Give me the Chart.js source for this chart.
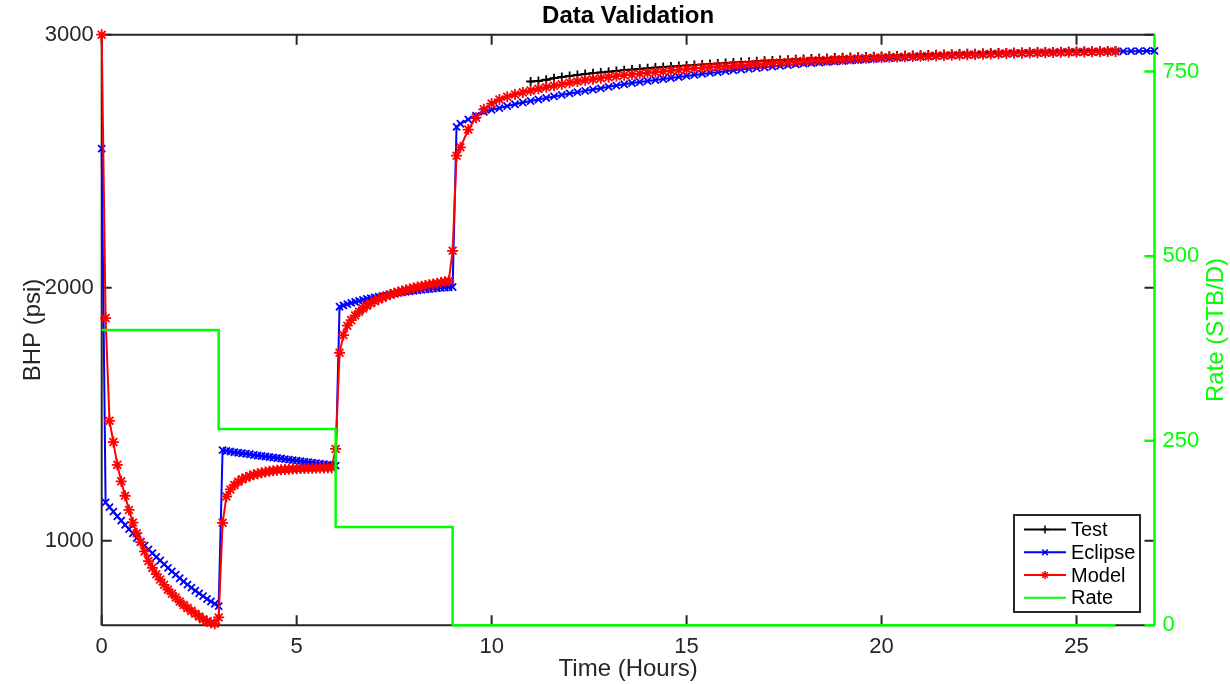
<!DOCTYPE html>
<html><head><meta charset="utf-8">
<script src="https://cdn.jsdelivr.net/npm/chart.js@4/dist/chart.umd.min.js"></script>
<style>html,body{margin:0;padding:0;background:#fff;}#wrap{width:1230px;height:684px;position:relative;}</style>
</head><body><div id="wrap"><canvas id="c" width="1230" height="684"></canvas></div>
<script>
// ---- data ----
const timeGrid = [
 0,0.1,0.2,0.3,0.4,0.5,0.6,0.7,0.8,0.9,
 1,1.1,1.2,1.3,1.4,1.5,1.6,1.7,1.8,1.9,
 2,2.1,2.2,2.3,2.4,2.5,2.6,2.7,2.8,2.9,
 3,3.1,3.2,3.3,3.4,3.5,3.6,3.7,3.8,3.9,
 4,4.1,4.2,4.3,4.4,4.5,4.6,4.7,4.8,4.9,
 5,5.1,5.2,5.3,5.4,5.5,5.6,5.7,5.8,5.9,
 6,6.1,6.2,6.3,6.4,6.5,6.6,6.7,6.8,6.9,
 7,7.1,7.2,7.3,7.4,7.5,7.6,7.7,7.8,7.9,
 8,8.1,8.2,8.3,8.4,8.5,8.6,8.7,8.8,8.9,
 9,9.1,9.2,9.4,9.6,9.8,
 10,10.2,10.4,10.6,10.8,
 11,11.2,11.4,11.6,11.8,
 12,12.2,12.4,12.6,12.8,
 13,13.2,13.4,13.6,13.8,
 14,14.2,14.4,14.6,14.8,
 15,15.2,15.4,15.6,15.8,
 16,16.2,16.4,16.6,16.8,
 17,17.2,17.4,17.6,17.8,
 18,18.2,18.4,18.6,18.8,
 19,19.2,19.4,19.6,19.8,
 20,20.2,20.4,20.6,20.8,
 21,21.2,21.4,21.6,21.8,
 22,22.2,22.4,22.6,22.8,
 23,23.2,23.4,23.6,23.8,
 24,24.2,24.4,24.6,24.8,
 25,25.2,25.4,25.6,25.8,
 26,26.2,26.4,26.6,26.8,
 27
];
const eclipseBHP = [
 2550,1152,1133,1115,1097,1080,1063,1046,1029,1011,
 996,981,966,951,936,922,907,893,879,866,
 852,839,827,815,803,792,781,770,760,751,
 742,1358,1355,1353,1350,1348,1346,1344,1342,1339,
 1337,1335,1333,1331,1329,1327,1325,1323,1321,1319,
 1317,1315,1313,1311,1309,1307,1305,1303,1301,1299,
 1297,1925,1930,1935,1940,1944,1948,1952,1956,1959,
 1962,1965,1968,1971,1974,1977,1980,1982,1984,1986,
 1988,1990,1992,1994,1995,1997,1998,2000,2001,2002,
 2003,2636,2648,2665,2680,2695,
 2703,2710,2718,2725,2732,
 2738,2744,2750,2756,2762,
 2768,2773,2778,2783,2788,
 2794,2799,2804,2809,2813,
 2817,2821,2825,2829,2833,
 2837,2841,2845,2849,2852,
 2856,2859,2862,2865,2868,
 2871,2874,2877,2880,2883,
 2886,2888,2890,2892,2894,
 2896,2898,2900,2902,2904,
 2906,2907,2909,2910,2912,
 2913,2914,2916,2917,2918,
 2919,2920,2921,2922,2923,
 2924,2925,2926,2927,2927,
 2928,2929,2929,2930,2931,
 2931,2932,2932,2933,2933,
 2934,2934,2935,2935,2936,
 2936
];
const modelBHP = [
 3000,1880,1474,1390,1300,1235,1178,1122,1072,1030,
 995,958,920,893,868,847,826,807,791,776,
 760,746,734,723,712,701,690,682,676,672,
 697,1071,1175,1203,1220,1233,1243,1250,1256,1261,
 1265,1269,1272,1275,1277,1279,1281,1282,1283,1284,
 1285,1286,1286,1287,1287,1288,1288,1288,1289,1289,
 1363,1743,1813,1850,1872,1890,1905,1918,1929,1939,
 1947,1954,1961,1967,1973,1978,1983,1987,1991,1995,
 1999,2003,2006,2009,2012,2015,2018,2021,2024,2027,
 2146,2522,2555,2625,2672,2705,
 2728,2744,2755,2764,2772,
 2779,2786,2792,2798,2804,
 2810,2815,2820,2824,2828,
 2832,2836,2840,2843,2846,
 2849,2852,2855,2858,2861,
 2864,2867,2869,2872,2874,
 2876,2878,2880,2882,2884,
 2886,2888,2890,2892,2894,
 2896,2897,2899,2900,2902,
 2903,2905,2906,2907,2909,
 2910,2911,2912,2913,2914,
 2915,2916,2917,2918,2919,
 2920,2921,2922,2923,2924,
 2925,2926,2927,2927,2928,
 2929,2929,2930,2931,2931,
 2932,2932,2933,2933,2934,
 2934
];
const testStartTime = 11;
const testBHP = [
 2815,2817,2822,2828,2833,
 2837,2841,2845,2848,2851,
 2854,2857,2860,2862,2865,
 2867,2870,2872,2874,2876,
 2878,2880,2882,2884,2886,
 2888,2890,2892,2893,2895,
 2897,2898,2900,2901,2903,
 2904,2906,2907,2908,2910,
 2911,2912,2913,2914,2915,
 2916,2917,2918,2919,2920,
 2921,2922,2923,2924,2925,
 2926,2927,2927,2928,2929,
 2930,2930,2931,2932,2932,
 2933,2933,2934,2934,2935,
 2935,2936,2936,2937,2937,
 2938
];
const rateTimes = [0, 3, 6, 9, 26];
const rateValues = [400, 266, 133, 0, 0];
const xTicks = [0, 5, 10, 15, 20, 25];
const bhpTicks = [1000, 2000, 3000];
const rateTicks = [0, 250, 500, 750];
const seriesNames = ['Test', 'Eclipse', 'Model', 'Rate'];

// ---- helpers ----
function zip(times, values, offset) {
  const out = [];
  for (let i = 0; i < values.length; i++) out.push({x: times[offset + i], y: values[i]});
  return out;
}
const FONT = '"Liberation Sans", Arial, Helvetica, sans-serif';
const AX = '#262626';
const GREEN = '#00ff00';

function drawMarker(ctx, style, x, y, r, color) {
  ctx.save();
  ctx.strokeStyle = color; ctx.lineWidth = 1.5;
  ctx.beginPath();
  if (style === 'cross' || style === 'star') {
    ctx.moveTo(x - r, y); ctx.lineTo(x + r, y);
    ctx.moveTo(x, y - r); ctx.lineTo(x, y + r);
  }
  if (style === 'crossRot' || style === 'star') {
    const d = r * Math.SQRT1_2;
    ctx.moveTo(x - d, y - d); ctx.lineTo(x + d, y + d);
    ctx.moveTo(x - d, y + d); ctx.lineTo(x + d, y - d);
  }
  ctx.stroke();
  ctx.restore();
}

const decor = {
  id: 'decor',
  beforeDatasetsDraw(chart) {
    const ctx = chart.ctx, a = chart.chartArea;
    const xs = chart.scales.x, ys = chart.scales.y, yr = chart.scales.y1;
    ctx.save();
    ctx.lineWidth = 2; ctx.strokeStyle = AX;
    ctx.beginPath();
    ctx.moveTo(a.left, a.bottom); ctx.lineTo(a.left, a.top); ctx.lineTo(a.right, a.top);
    ctx.moveTo(a.left, a.bottom); ctx.lineTo(a.right, a.bottom);
    ctx.stroke();
    ctx.beginPath();
    xTicks.forEach(v => {
      const px = xs.getPixelForValue(v);
      ctx.moveTo(px, a.bottom); ctx.lineTo(px, a.bottom - 10);
      ctx.moveTo(px, a.top); ctx.lineTo(px, a.top + 10);
    });
    bhpTicks.forEach(v => {
      const py = ys.getPixelForValue(v);
      ctx.moveTo(a.left, py); ctx.lineTo(a.left + 10, py);
      ctx.moveTo(a.right, py); ctx.lineTo(a.right - 10, py);
    });
    ctx.stroke();
    ctx.strokeStyle = GREEN; ctx.lineWidth = 2.5;
    ctx.beginPath();
    ctx.moveTo(a.right, a.top); ctx.lineTo(a.right, a.bottom);
    rateTicks.forEach(v => {
      const py = yr.getPixelForValue(v);
      ctx.moveTo(a.right, py); ctx.lineTo(a.right - 10, py);
    });
    ctx.stroke();
    ctx.restore();
  },
  afterDraw(chart) {
    const ctx = chart.ctx, a = chart.chartArea;
    ctx.save();
    const cx = (a.left + a.right) / 2, cy = (a.top + a.bottom) / 2;
    ctx.fillStyle = '#000';
    ctx.font = 'bold 24px ' + FONT;
    ctx.textAlign = 'center'; ctx.textBaseline = 'middle';
    ctx.fillText('Data Validation', cx, 16);
    ctx.fillStyle = AX;
    ctx.font = '24px ' + FONT;
    ctx.fillText('Time (Hours)', cx, 669);
    ctx.save(); ctx.translate(33, cy); ctx.rotate(-Math.PI / 2);
    ctx.fillText('BHP (psi)', 0, 0); ctx.restore();
    ctx.save(); ctx.translate(1216, cy); ctx.rotate(-Math.PI / 2);
    ctx.fillStyle = GREEN; ctx.fillText('Rate (STB/D)', 0, 0); ctx.restore();
    // legend
    const bx = 1014, by = 515, bw = 126, bh = 97;
    ctx.fillStyle = '#fff'; ctx.fillRect(bx, by, bw, bh);
    ctx.strokeStyle = AX; ctx.lineWidth = 2; ctx.strokeRect(bx, by, bw, bh);
    const rows = [529.5, 552.3, 575, 597.7];
    ctx.font = '20px ' + FONT; ctx.textAlign = 'left'; ctx.textBaseline = 'middle';
    chart.data.datasets.forEach((ds, i) => {
      const y = rows[i];
      ctx.strokeStyle = ds.borderColor; ctx.lineWidth = 2;
      ctx.beginPath(); ctx.moveTo(1024, y); ctx.lineTo(1066, y); ctx.stroke();
      if (ds.pointRadius > 0) drawMarker(ctx, ds.pointStyle, 1045, y, 4, ds.borderColor);
      ctx.fillStyle = '#000';
      ctx.fillText(ds.label, 1071, y + 1);
    });
    ctx.restore();
  }
};

const tickFont = {family: FONT, size: 22};
const plain = v => String(v);
new Chart(document.getElementById('c'), {
  type: 'line',
  data: {
    datasets: [
      {label: seriesNames[0], data: zip(timeGrid, testBHP, timeGrid.indexOf(testStartTime)), yAxisID: 'y',
       borderColor: '#000000', borderWidth: 2, pointStyle: 'cross', pointRadius: 4.5, pointBorderWidth: 1.8,
       pointBorderColor: '#000000', order: 3, clip: false},
      {label: seriesNames[1], data: zip(timeGrid, eclipseBHP, 0), yAxisID: 'y',
       borderColor: '#0000ff', borderWidth: 2, pointStyle: 'crossRot', pointRadius: 5, pointBorderWidth: 1.8,
       pointBorderColor: '#0000ff', order: 2, clip: false},
      {label: seriesNames[2], data: zip(timeGrid, modelBHP, 0), yAxisID: 'y',
       borderColor: '#ff0000', borderWidth: 2, pointStyle: 'star', pointRadius: 5.5, pointBorderWidth: 1.8,
       pointBorderColor: '#ff0000', order: 1, clip: false},
      {label: seriesNames[3], data: zip(rateTimes, rateValues, 0), yAxisID: 'y1',
       borderColor: GREEN, borderWidth: 2.5, pointRadius: 0, stepped: 'before', order: 0, clip: false}
    ]
  },
  options: {
    responsive: false, animation: false, devicePixelRatio: 1,
    layout: {padding: {top: 34.7, left: 0, right: 0, bottom: 0}},
    plugins: {legend: {display: false}, title: {display: false}, tooltip: {enabled: false}},
    elements: {line: {tension: 0}},
    scales: {
      x: {type: 'linear', min: 0, max: 27, position: 'bottom',
          grid: {display: false, drawTicks: false}, border: {display: false},
          ticks: {font: tickFont, color: AX, padding: 8, autoSkip: false, maxRotation: 0, callback: plain},
          afterBuildTicks: s => { s.ticks = xTicks.map(v => ({value: v})); },
          afterFit: s => { s.height = 58.7; }},
      y: {type: 'linear', min: 666, max: 3000, position: 'left',
          grid: {display: false, drawTicks: false}, border: {display: false},
          ticks: {font: tickFont, color: AX, padding: 8, autoSkip: false, callback: plain},
          afterBuildTicks: s => { s.ticks = bhpTicks.map(v => ({value: v})); },
          afterFit: s => { s.width = 101.7; }},
      y1: {type: 'linear', min: 0, max: 800, position: 'right',
          grid: {display: false, drawTicks: false}, border: {display: false},
          ticks: {font: tickFont, color: GREEN, padding: 8, autoSkip: false, callback: plain},
          afterBuildTicks: s => { s.ticks = rateTicks.map(v => ({value: v})); },
          afterFit: s => { s.width = 75.5; }}
    }
  },
  plugins: [decor]
});
</script></body></html>
